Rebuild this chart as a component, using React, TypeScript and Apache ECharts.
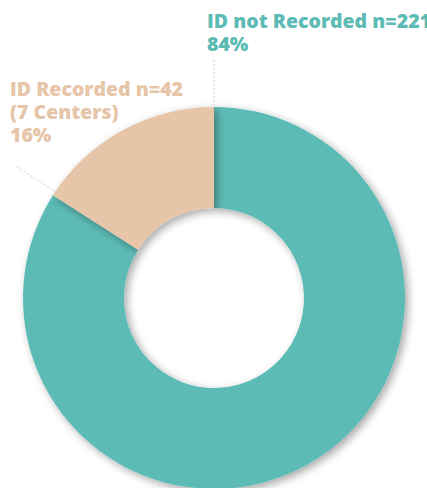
import React, { useEffect, useRef } from "react";
import * as echarts from "echarts";

const categories = ["ID not Recorded", "ID Recorded"];
const counts = [221, 42];
const percents = ["84%", "16%"];
const extraLines = ["", "(7 Centers)"];
const colors = ["#5DBBB5", "#E6C5A9"];

export default function App() {
  const ref = useRef<HTMLDivElement>(null);
  useEffect(() => {
    document.body.style.margin = "0";
    const chart = echarts.init(ref.current!, null, { renderer: "svg" });
    const data = categories.map((c, i) => ({
      name: c,
      value: counts[i],
      itemStyle: { color: colors[i] },
      label: { color: colors[i] },
    }));
    chart.setOption({
      animation: false,
      backgroundColor: "#ffffff",
      series: [
        {
          type: "pie",
          center: [214, 298],
          radius: [90, 191],
          startAngle: 90,
          clockwise: true,
          data,
          itemStyle: {
            shadowBlur: 8,
            shadowOffsetX: 3,
            shadowOffsetY: 3,
            shadowColor: "rgba(0,0,0,0.35)",
          },
          label: {
            show: true,
            fontFamily: "Open Sans",
            fontWeight: 800,
            fontSize: 19.5,
            lineHeight: 23,
            align: "left",
            width: 400,
            overflow: "none",
            formatter: (p: any) => {
              const i = p.dataIndex;
              const lines = [`${categories[i]} n=${counts[i]}`];
              if (extraLines[i]) lines.push(extraLines[i]);
              lines.push(percents[i]);
              return lines.join("\n");
            },
          },
          labelLine: { show: false },
          labelLayout: (p: any) => {
            if (p.dataIndex === 0) {
              return { x: 207, y: 9, align: "left", verticalAlign: "top" };
            }
            return { x: 10, y: 77, align: "left", verticalAlign: "top" };
          },
        },
      ],
      graphic: [
        {
          type: "line",
          shape: { x1: 214, y1: 60, x2: 214, y2: 107 },
          style: { stroke: "#cccccc", lineWidth: 1, lineDash: [2, 2] },
          z: 10,
        },
        {
          type: "line",
          shape: { x1: 17, y1: 167, x2: 56, y2: 192 },
          style: { stroke: "#cccccc", lineWidth: 1, lineDash: [2, 2] },
          z: 10,
        },
      ],
    });
    return () => chart.dispose();
  }, []);
  return <div ref={ref} style={{ width: 427, height: 488 }} />;
}
